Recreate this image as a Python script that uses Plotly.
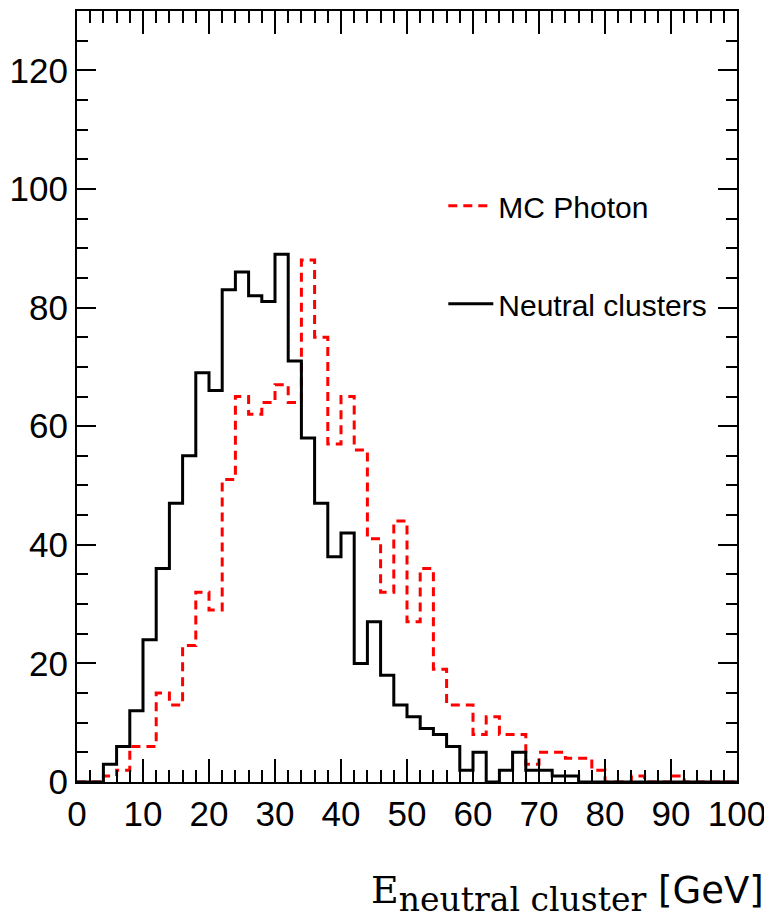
import numpy as np
import plotly.graph_objects as go

# Bin edges: 50 bins of 2 GeV between 0 and 100
bin_edges = np.arange(0, 102, 2)

neutral_clusters = [0, 0, 3, 6, 12, 24, 36, 47, 55, 69,
                    66, 83, 86, 82, 81, 89, 71, 58, 47, 38,
                    42, 20, 27, 18, 13, 11, 9, 8, 6, 2,
                    5, 0, 2, 5, 2, 2, 1, 1, 0, 0,
                    0, 0, 0, 0, 0, 0, 0, 0, 0, 0]

mc_photon = [0, 0, 1, 2, 6, 6, 15, 13, 23, 32,
             29, 51, 65, 62, 64, 67, 64, 88, 75, 57,
             65, 56, 41, 32, 44, 27, 36, 19, 13, 13,
             8, 11, 8, 8, 3, 5, 5, 4, 4, 2,
             0, 0, 1, 0, 0, 1, 0, 0, 0, 0]

x_tick_vals = list(range(0, 101, 10))
y_tick_vals = list(range(0, 121, 20))


def step_y(vals):
    return list(vals) + [vals[-1]]


fig = go.Figure()
fig.add_trace(go.Scatter(
    x=bin_edges, y=step_y(mc_photon), mode="lines", line_shape="hv",
    name="MC Photon", legendgroup="a",
    line=dict(color="#ff0000", width=3, dash="9px,6px"),
))
fig.add_trace(go.Scatter(
    x=bin_edges, y=step_y(neutral_clusters), mode="lines", line_shape="hv",
    name="Neutral clusters", legendgroup="b",
    line=dict(color="#000000", width=3),
))

tick_font = dict(family="Liberation Sans, Arial, sans-serif", size=35, color="black")

# page body has an 8px margin, so the figure is sized/offset to compensate
fig.update_layout(
    width=764, height=911,
    margin=dict(l=69, r=35, t=3, b=137),
    paper_bgcolor="white", plot_bgcolor="white",
    showlegend=True,
    legend=dict(
        x=0.555, y=0.781, xanchor="left", yanchor="top",
        bgcolor="rgba(0,0,0,0)", borderwidth=0,
        font=dict(family="Liberation Sans, Arial, sans-serif", size=30, color="black"),
        traceorder="grouped", tracegroupgap=56, itemwidth=45,
    ),
    xaxis=dict(
        range=[0, 100], tickvals=x_tick_vals, ticktext=[str(v) for v in x_tick_vals],
        ticks="inside", ticklen=23, tickwidth=2, tickcolor="black", automargin=False,
        showline=True, linecolor="black", linewidth=2, mirror="allticks",
        showgrid=False, zeroline=False, tickfont=tick_font,
        minor=dict(dtick=2, ticks="inside", ticklen=12, tickwidth=2, tickcolor="black", showgrid=False),
    ),
    yaxis=dict(
        range=[0, 130], tickvals=y_tick_vals, ticktext=[str(v) for v in y_tick_vals],
        ticks="inside", ticklen=19, tickwidth=2, tickcolor="black", automargin=False,
        showline=True, linecolor="black", linewidth=2, mirror="allticks",
        showgrid=False, zeroline=False, tickfont=tick_font,
        minor=dict(dtick=5, ticks="inside", ticklen=11, tickwidth=2, tickcolor="black", showgrid=False),
    ),
    annotations=[dict(
        xref="paper", yref="paper", x=0.443, y=-0.18, xanchor="left", yanchor="bottom",
        showarrow=False,
        text="<span style='font-family:DejaVu Serif'>E<sub><span style='font-size:33px'>neutral cluster</span></sub></span>"
             "<span style='font-family:DejaVu Sans;font-size:37px'> [GeV]</span>",
        font=dict(size=38, color="black", family="DejaVu Serif"),
    )],
)

fig.write_html("out.html")
